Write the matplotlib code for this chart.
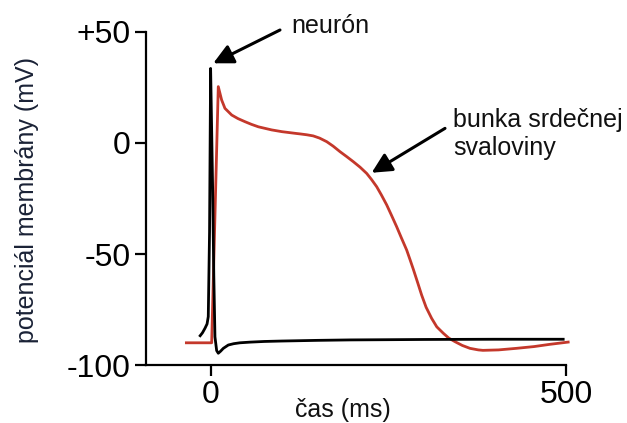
import matplotlib
matplotlib.use("Agg")
import matplotlib.pyplot as plt

plt.rcParams['font.family'] = ['Liberation Sans', 'DejaVu Sans']

# neuron (black) trace
neuron_t = [-16.4, -12.0, -8.5, -5.5, -3.8, -2.0, -0.5, 1.0, 2.3, 4.0, 5.6, 8.0, 10.3, 13.5, 17.4,
            24.4, 32, 40.8, 55, 75, 100, 150, 196, 250, 300, 400, 498]
neuron_v = [-87.3, -85.5, -83.5, -81.5, -78.2, -40, 33.6, 5, -19.7, -60, -87.3, -93.5, -94.7, -93.8, -92.5,
            -91.0, -90.4, -90.0, -89.7, -89.4, -89.2, -88.9, -88.7, -88.6, -88.5, -88.4, -88.4]

# cardiac muscle cell (red) trace
heart_t = [-36.6, 1.0, 10.3, 15, 19.7, 29.2, 38, 47.9, 57, 66.7, 76, 85.4, 100, 110, 120, 125.4, 135,
           144, 153, 163, 172, 181.7, 191, 200.4, 210, 219.3, 226, 233.4, 240, 247.5, 254, 261.5, 268,
           275.6, 280.3, 284.9, 291, 296.7, 303, 310.8, 318, 327.2, 335, 343.7, 354, 364.8, 376.5, 383,
           405, 430, 455, 477, 505]
heart_v = [-90, -90, 25.4, 19.4, 15.6, 12.6, 11.0, 9.6, 8.4, 7.3, 6.6, 5.9, 5.1, 4.7, 4.3, 4.1, 3.7,
           3.2, 2.2, 0.6, -1.4, -3.9, -6.1, -8.4, -10.9, -13.7, -16.4, -19.7, -23.4, -27.9, -32.4, -37.7, -42.6,
           -48.2, -52.5, -56.8, -62.8, -68.5, -74.0, -79.0, -82.8, -85.7, -87.9, -89.5, -91.2, -92.5, -93.2, -93.4,
           -93.2, -92.5, -91.7, -90.7, -89.6]

yticks = [50, 0, -50, -100]
ytick_labels = ['+50', '0', '-50', '-100']
xticks = [0, 500]
xtick_labels = ['0', '500']

fig = plt.figure(figsize=(6.27, 4.23), dpi=100)
ax = fig.add_axes([146/627, 1-365/423, (566-146)/627, (365-32)/423])

ax.plot(heart_t, heart_v, color='#c4382b', lw=2.0, clip_on=False, zorder=2,
        solid_joinstyle='round', solid_capstyle='butt')
ax.plot(neuron_t, neuron_v, color='black', lw=2.0, clip_on=False, zorder=3,
        solid_joinstyle='round', solid_capstyle='butt')

ax.set_xlim(-91.5, 500)
ax.set_ylim(-100, 50)
for s in ['top', 'right']:
    ax.spines[s].set_visible(False)
for s in ['left', 'bottom']:
    ax.spines[s].set_linewidth(1.6)

ax.set_yticks(yticks)
ax.set_yticklabels(ytick_labels)
ax.set_xticks(xticks)
ax.set_xticklabels(xtick_labels)
ax.tick_params(direction='out', length=8, width=1.6, labelsize=23, pad=3)

fig.text(343/627, 1-410/423, 'čas (ms)', ha='center', va='center', fontsize=18, color='#111111')
fig.text(27/627, 1-200/423, 'potenciál membrány (mV)', ha='center', va='center', rotation=90,
         fontsize=18, color='#1a2236')

ax.text(113.7, 49.5, 'neurón', fontsize=18, ha='left', va='baseline', clip_on=False, color='#111111')
ax.annotate('', xy=(3.2, 35.9), xytext=(97.2, 50.9),
            arrowprops=dict(arrowstyle='-|>,head_length=0.5,head_width=0.25', color='black', lw=2.2,
                            mutation_scale=24, shrinkA=0, shrinkB=0), annotation_clip=False)

ax.text(341.3, 7.3, 'bunka srdečnej', fontsize=18, ha='left', va='baseline', clip_on=False, color='#111111')
ax.text(341.3, -5.6, 'svaloviny', fontsize=18, ha='left', va='baseline', clip_on=False, color='#111111')
ax.annotate('', xy=(226.3, -13.4), xytext=(329.6, 6.6),
            arrowprops=dict(arrowstyle='-|>,head_length=0.5,head_width=0.25', color='black', lw=2.2,
                            mutation_scale=24, shrinkA=0, shrinkB=0), annotation_clip=False)

fig.savefig('out.png', dpi=100)
